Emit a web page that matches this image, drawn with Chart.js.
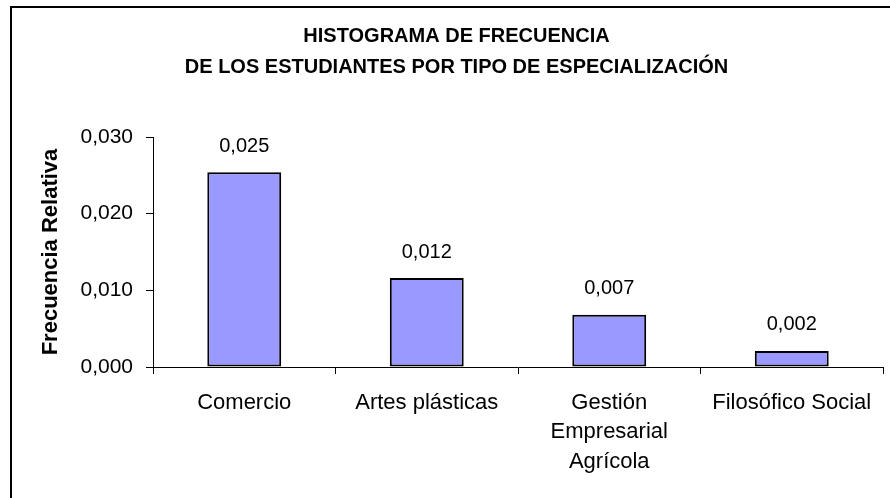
<!DOCTYPE html>
<html>
<head>
<meta charset="utf-8">
<script src="https://cdn.jsdelivr.net/npm/chart.js@4/dist/chart.umd.min.js"></script>
<style>
  body { margin: 0; background: #fff; }
  #wrap { position: relative; width: 890px; height: 498px; overflow: hidden; }
  #frame { position: absolute; left: 10px; top: 6px; width: 1000px; height: 1000px;
           border-top: 2px solid #000; border-left: 2px solid #000; }
  canvas { position: absolute; left: 0; top: 0; }
</style>
</head>
<body>
<div id="wrap">
  <div id="frame"></div>
  <canvas id="histo"></canvas>
</div>
<script>
const categories = ["Comercio", "Artes plásticas", ["Gestión", "Empresarial", "Agrícola"], "Filosófico Social"];
const frecuencias = [0.0254, 0.0116, 0.0068, 0.0021];
const titleLines = ["HISTOGRAMA DE FRECUENCIA", "DE LOS ESTUDIANTES POR TIPO DE ESPECIALIZACIÓN"];
const yTitle = "Frecuencia Relativa";

const FONT = "'Liberation Sans', Arial, sans-serif";
const fmt = v => Number(v).toFixed(3).replace(".", ",");

// etiquetas de valor encima de cada barra
const valueLabels = {
  id: "valueLabels",
  afterDatasetsDraw(chart) {
    const ctx = chart.ctx;
    const meta = chart.getDatasetMeta(0);
    ctx.save();
    ctx.font = "20px " + FONT;
    ctx.fillStyle = "#000";
    ctx.textAlign = "center";
    ctx.textBaseline = "middle";
    meta.data.forEach((bar, i) => {
      ctx.fillText(fmt(frecuencias[i]), bar.x, bar.y - 26);
    });
    ctx.restore();
  }
};

new Chart(document.getElementById("histo"), {
  type: "bar",
  data: {
    labels: categories,
    datasets: [{
      data: frecuencias,
      backgroundColor: "#9999ff",
      borderColor: "#000",
      borderWidth: 2,
      borderSkipped: false,
      categoryPercentage: 1,
      barPercentage: 0.405
    }]
  },
  options: {
    responsive: true,
    maintainAspectRatio: false,
    animation: false,
    layout: { padding: { left: 30, right: 7, top: 21, bottom: 0 } },
    plugins: {
      legend: { display: false },
      tooltip: { enabled: false },
      title: {
        display: true,
        text: titleLines,
        color: "#000",
        font: { family: FONT, size: 20, weight: "bold", lineHeight: "31px" },
        padding: { top: 0, bottom: 54 }
      }
    },
    scales: {
      x: {
        offset: true,
        border: { color: "#000", width: 1 },
        grid: { offset: true, drawOnChartArea: false, color: "#000", tickLength: 7 },
        ticks: {
          color: "#000",
          font: { family: FONT, size: 22, lineHeight: "29.5px" },
          padding: 14,
          maxRotation: 0,
          autoSkip: false
        },
        afterFit(scale) { scale.height = 131; }
      },
      y: {
        min: 0,
        max: 0.03,
        border: { color: "#000", width: 1 },
        grid: { drawOnChartArea: false, color: "#000", tickLength: 7 },
        ticks: {
          stepSize: 0.01,
          color: "#000",
          font: { family: FONT, size: 21 },
          padding: 13,
          callback: v => fmt(v)
        },
        title: {
          display: true,
          text: yTitle,
          color: "#000",
          font: { family: FONT, size: 22, weight: "bold" },
          padding: { top: 8, bottom: 0 }
        },
        afterFit(scale) { scale.width = 123; }
      }
    }
  },
  plugins: [valueLabels]
});
</script>
</body>
</html>
